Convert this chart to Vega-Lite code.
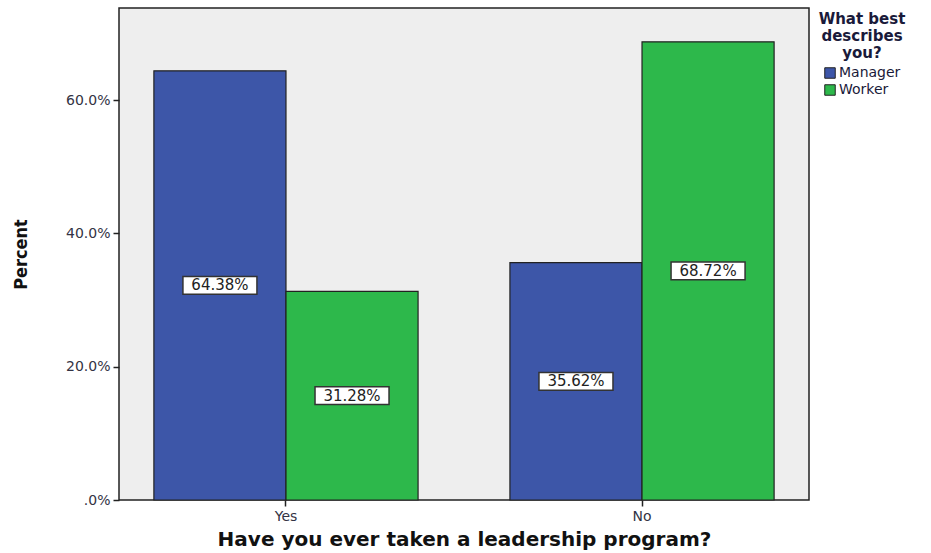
{
  "$schema": "https://vega.github.io/schema/vega-lite/v6.json",
  "width": 690,
  "height": 492,
  "autosize": "none",
  "padding": {"left": 119, "top": 8, "right": 122, "bottom": 53},
  "background": "white",
  "config": {
    "view": {"fill": "#EEEEEE", "stroke": "#222222", "strokeWidth": 1.5},
    "font": "DejaVu Sans"
  },
  "data": {
    "values": [
      {"program": "Yes", "role": "Manager", "pct": 64.38},
      {"program": "Yes", "role": "Worker", "pct": 31.28},
      {"program": "No", "role": "Manager", "pct": 35.62},
      {"program": "No", "role": "Worker", "pct": 68.72}
    ]
  },
  "transform": [
    {"calculate": "datum.pct / 2", "as": "mid"},
    {"calculate": "format(datum.pct, '.2f') + '%'", "as": "label"}
  ],
  "encoding": {
    "x": {
      "field": "program",
      "type": "nominal",
      "sort": ["Yes", "No"],
      "scale": {"paddingInner": 0.258, "paddingOuter": 0.098},
      "axis": {
        "title": "Have you ever taken a leadership program?",
        "titleFontSize": 20,
        "titleFontWeight": "bold",
        "titleColor": "#111111",
        "titlePadding": 6,
        "labelAngle": 0,
        "labelFontSize": 14,
        "labelColor": "#333344",
        "labelPadding": 3,
        "tickSize": 6,
        "tickColor": "#222222",
        "tickWidth": 1.5,
        "domain": false
      }
    },
    "xOffset": {
      "field": "role",
      "type": "nominal",
      "sort": ["Manager", "Worker"],
      "scale": {"paddingInner": 0, "paddingOuter": 0}
    }
  },
  "layer": [
    {
      "mark": {"type": "bar", "stroke": "#222222", "strokeWidth": 1.2},
      "encoding": {
        "y": {
          "field": "pct",
          "type": "quantitative",
          "scale": {"domain": [0, 73.8], "nice": false, "zero": true},
          "axis": {
            "title": "Percent",
            "titleFont": "Liberation Sans Narrow, DejaVu Sans Condensed, sans-serif",
            "titleFontSize": 18,
            "titleFontWeight": "bold",
            "titleColor": "#111111",
            "titleX": -89,
            "values": [0, 20, 40, 60],
            "labelExpr": "datum.value == 0 ? '.0%' : format(datum.value, '.1f') + '%'",
            "labelFontSize": 14,
            "labelColor": "#333344",
            "labelPadding": 3,
            "tickSize": 6,
            "tickColor": "#222222",
            "tickWidth": 1.5,
            "grid": false,
            "domain": false
          }
        },
        "color": {
          "field": "role",
          "type": "nominal",
          "scale": {"domain": ["Manager", "Worker"], "range": ["#3D56A8", "#2DB84B"]},
          "legend": {
            "title": ["What best", "describes", "you?"],
            "orient": "none",
            "legendX": 700,
            "legendY": 4,
            "titleFontSize": 15,
            "titleFontWeight": "bold",
            "titleColor": "#1a1a3a",
            "titleAnchor": "middle",
            "titleAlign": "center",
            "titleLineHeight": 17,
            "titlePadding": 5,
            "labelFontSize": 14,
            "labelColor": "#1a1a3a",
            "labelOffset": 2,
            "symbolType": "square",
            "symbolSize": 110,
            "symbolStrokeColor": "#222222",
            "symbolStrokeWidth": 1,
            "symbolOpacity": 1,
            "rowPadding": 1
          }
        }
      }
    },
    {
      "mark": {
        "type": "point",
        "shape": "M-1,-0.24H1V0.24H-1Z",
        "size": 5476,
        "filled": true,
        "fill": "white",
        "stroke": "#333333",
        "strokeWidth": 1.5,
        "opacity": 1
      },
      "encoding": {
        "y": {"field": "mid", "type": "quantitative"}
      }
    },
    {
      "mark": {"type": "text", "fontSize": 15, "color": "#222222", "baseline": "middle", "align": "center"},
      "encoding": {
        "y": {"field": "mid", "type": "quantitative"},
        "text": {"field": "label"}
      }
    }
  ]
}
